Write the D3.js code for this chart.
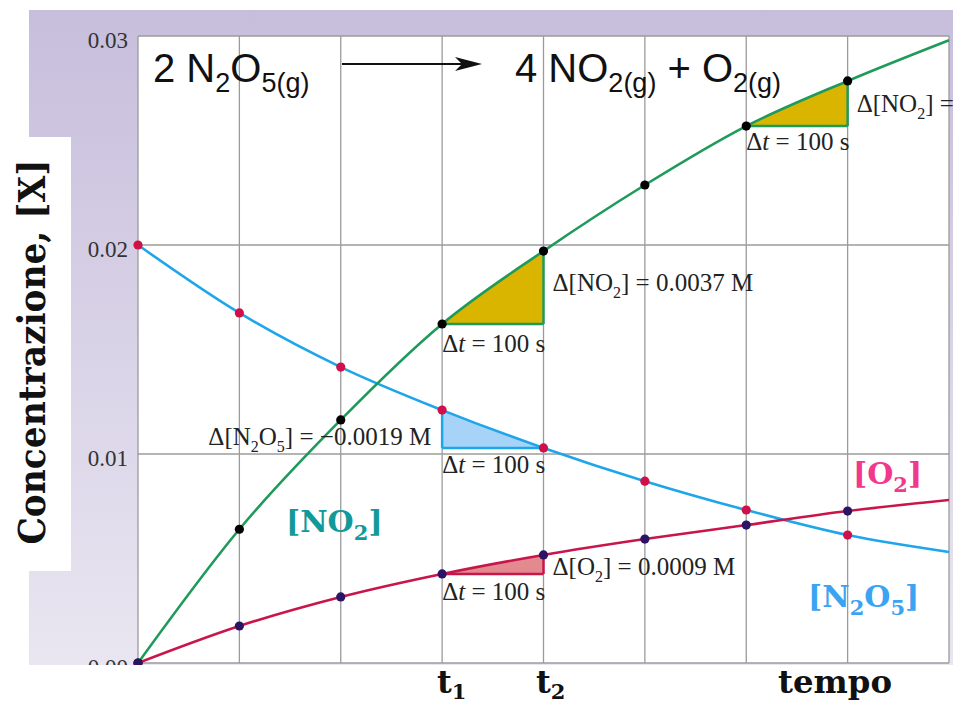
<!DOCTYPE html>
<html>
<head>
<meta charset="utf-8">
<script src="https://cdn.jsdelivr.net/npm/d3@7/dist/d3.min.js"></script>
<style>
  body { margin: 0; background: #fff; }
  svg { display: block; }
</style>
</head>
<body>
<svg id="chart" width="953" height="706"></svg>
<script>
/* global d3 */

// time in seconds, concentrations in M
const times = [0, 100, 200, 300, 400, 500, 600, 700, 800];
const n2o5 = [0.0200, 0.01675, 0.01416, 0.0121, 0.01029, 0.0087, 0.00732, 0.00612, 0.00531];
const no2 = [0.0000, 0.0064, 0.01163, 0.01622, 0.01971, 0.02287, 0.02569, 0.02785, 0.0298];
const o2 = [0.0000, 0.00177, 0.00316, 0.00426, 0.00517, 0.00593, 0.0066, 0.00727, 0.0078];
const dotCount = 8; // dots at t = 0..700
const yTicks = [0, 0.01, 0.02, 0.03];
const yTickLabels = ['0.00', '0.01', '0.02', '0.03'];

const svg = d3.select('#chart');
const x = d3.scaleLinear().domain([0, 800]).range([138, 949]);
const y = d3.scaleLinear().domain([0, 0.03]).range([663, 36]);

const serif = '"Liberation Serif", "Times New Roman", serif';
const slab = '"DejaVu Serif", serif';
const sans = '"Liberation Sans", Arial, sans-serif';

// background
const defs = svg.append('defs');
const grad = defs.append('linearGradient')
  .attr('id', 'bg').attr('x1', 0).attr('y1', 0).attr('x2', 0).attr('y2', 1);
grad.append('stop').attr('offset', 0).attr('stop-color', '#c7bedc');
grad.append('stop').attr('offset', 1).attr('stop-color', '#e9e6f1');

svg.append('rect').attr('x', 29).attr('y', 10).attr('width', 924).attr('height', 655)
  .attr('fill', 'url(#bg)');
svg.append('rect').attr('x', 0).attr('y', 137).attr('width', 71).attr('height', 434)
  .attr('fill', '#fff');

svg.append('rect')
  .attr('x', x(0)).attr('y', y(0.03))
  .attr('width', x(800) - x(0)).attr('height', y(0) - y(0.03))
  .attr('fill', '#fff');

// grid
const grid = svg.append('g').attr('stroke', '#9b9b9b').attr('stroke-width', 1.3);
grid.selectAll('line.v').data(times).enter().append('line')
  .attr('x1', d => x(d)).attr('x2', d => x(d))
  .attr('y1', y(0.03)).attr('y2', y(0));
grid.selectAll('line.h').data(yTicks).enter().append('line')
  .attr('x1', x(0)).attr('x2', x(800))
  .attr('y1', d => y(d)).attr('y2', d => y(d));

// y tick labels
const yAxis = d3.axisLeft(y).tickValues(yTicks).tickSize(0).tickPadding(10)
  .tickFormat((d, i) => yTickLabels[i]);
const ya = svg.append('g').attr('transform', `translate(${x(0)},0)`).call(yAxis);
ya.select('.domain').remove();
ya.selectAll('text')
  .attr('font-family', serif).attr('font-size', 23).attr('fill', '#333')
  .attr('dy', '0.5em');

// triangles: area between the curve and a flat level, clipped to [t0, t1]
let clipId = 0;
function triangle(series, i0, i1, fill, stroke, rising) {
  clipId += 1;
  defs.append('clipPath').attr('id', `tri${clipId}`)
    .append('rect')
    .attr('x', x(times[i0])).attr('y', 0)
    .attr('width', x(times[i1]) - x(times[i0])).attr('height', 706);
  const level = rising ? series[i0] : series[i1];
  const area = d3.area()
    .x((d, i) => x(times[i]))
    .y0(y(level))
    .y1(d => y(d))
    .curve(d3.curveMonotoneX);
  svg.append('path').attr('d', area(series))
    .attr('clip-path', `url(#tri${clipId})`)
    .attr('fill', fill);
  const legX = rising ? times[i1] : times[i0];
  const g = svg.append('g').attr('stroke', stroke).attr('stroke-width', 2.5);
  g.append('line')
    .attr('x1', x(times[i0])).attr('x2', x(times[i1]))
    .attr('y1', y(level)).attr('y2', y(level));
  g.append('line')
    .attr('x1', x(legX)).attr('x2', x(legX))
    .attr('y1', y(series[i0])).attr('y2', y(series[i1]));
}
triangle(no2, 3, 4, '#dab500', '#1e9a5a', true);
triangle(no2, 6, 7, '#dab500', '#1e9a5a', true);
triangle(n2o5, 3, 4, '#a6d3f7', '#1fa6ea', false);
triangle(o2, 3, 4, '#e28a8f', '#c8164a', true);

// curves
const series = [
  { values: n2o5, line: '#1fa6ea', dot: '#d0104a' },
  { values: no2, line: '#1e9a5a', dot: '#000' },
  { values: o2, line: '#c8164a', dot: '#2a1463' },
];
const line = d3.line()
  .x((d, i) => x(times[i]))
  .y(d => y(d))
  .curve(d3.curveMonotoneX);

series.forEach(s => {
  svg.append('path').attr('d', line(s.values))
    .attr('fill', 'none').attr('stroke', s.line).attr('stroke-width', 2.6);
});
series.forEach(s => {
  svg.append('g').selectAll('circle').data(s.values.slice(0, dotCount)).enter()
    .append('circle')
    .attr('cx', (d, i) => x(times[i])).attr('cy', d => y(d))
    .attr('r', 4.6).attr('fill', s.dot);
});

// text with subscripts: parts = [[text, isSub, italic], ...]
function richText(px, py, parts, o) {
  const t = svg.append('text').attr('x', px).attr('y', py)
    .attr('font-family', o.family).attr('font-size', o.size)
    .attr('fill', o.fill || '#222')
    .attr('font-weight', o.weight || 'normal')
    .attr('text-anchor', o.anchor || 'start');
  let shifted = false;
  parts.forEach(([s, sub, italic]) => {
    const sp = t.append('tspan').text(s);
    if (sub && !shifted) { sp.attr('dy', o.shift); shifted = true; }
    if (!sub && shifted) { sp.attr('dy', -o.shift); shifted = false; }
    if (sub) sp.attr('font-size', o.sub);
    if (italic) sp.attr('font-style', 'italic');
  });
  return t;
}

// equation
const eq = { family: sans, size: 40, sub: 27, shift: 10, fill: '#111' };
richText(153, 82, [['2 N'], ['2', true], ['O'], ['5(g)', true]], eq);
richText(515, 82, [['4 NO'], ['2(g)', true], [' + O'], ['2(g)', true]], eq);
svg.append('line').attr('x1', 342).attr('x2', 468).attr('y1', 64).attr('y2', 64)
  .attr('stroke', '#111').attr('stroke-width', 2.2);
svg.append('path').attr('d', 'M482,64L455,57L462,64L455,71Z').attr('fill', '#111');

// annotations
const ann = { family: serif, size: 25, sub: 16, shift: 7, fill: '#222' };
const dt = [['Δ'], ['t', false, true], [' = 100 s']];
richText(x(300), y(no2[3]) + 28, dt, ann);
richText(x(300), y(n2o5[4]) + 25, dt, ann);
richText(x(300), y(o2[3]) + 26, dt, ann);
richText(x(600), y(no2[6]) + 24, dt, ann);
richText(x(400) + 9, 291, [['Δ[NO'], ['2', true], ['] = 0.0037 M']], ann);
richText(x(300) - 11, 445, [['Δ[N'], ['2', true], ['O'], ['5', true], ['] = −0.0019 M']],
  Object.assign({}, ann, { anchor: 'end' }));
richText(x(400) + 9, 575, [['Δ[O'], ['2', true], ['] = 0.0009 M']], ann);
richText(x(700) + 9, 112, [['Δ[NO'], ['2', true], ['] =']], ann);

// species labels
const lab = { family: slab, size: 30, sub: 21, shift: 8, weight: 'bold' };
richText(286, 532, [['[NO'], ['2', true], [']']], Object.assign({}, lab, { fill: '#12999a' }));
richText(853, 484, [['[O'], ['2', true], [']']], Object.assign({}, lab, { fill: '#f2388c' }));
richText(808, 607, [['[N'], ['2', true], ['O'], ['5', true], [']']],
  Object.assign({}, lab, { fill: '#3aa3f2' }));

// clip bottom of the panel
svg.append('rect').attr('x', 0).attr('y', 665).attr('width', 953).attr('height', 41)
  .attr('fill', '#fff');

// axis titles
const tl = { family: slab, size: 32, sub: 21, shift: 6, weight: 'bold', fill: '#111' };
richText(437, 693, [['t'], ['1', true]], tl);
richText(536, 693, [['t'], ['2', true]], tl);
richText(778, 693, [['tempo']], tl).attr('textLength', 114).attr('lengthAdjust', 'spacingAndGlyphs');

svg.append('text')
  .attr('transform', 'translate(45,352) rotate(-90)')
  .attr('text-anchor', 'middle')
  .attr('font-family', slab).attr('font-weight', 'bold').attr('font-size', 38)
  .attr('fill', '#111')
  .attr('textLength', 385).attr('lengthAdjust', 'spacingAndGlyphs')
  .text('Concentrazione, [X]');
</script>
</body>
</html>
